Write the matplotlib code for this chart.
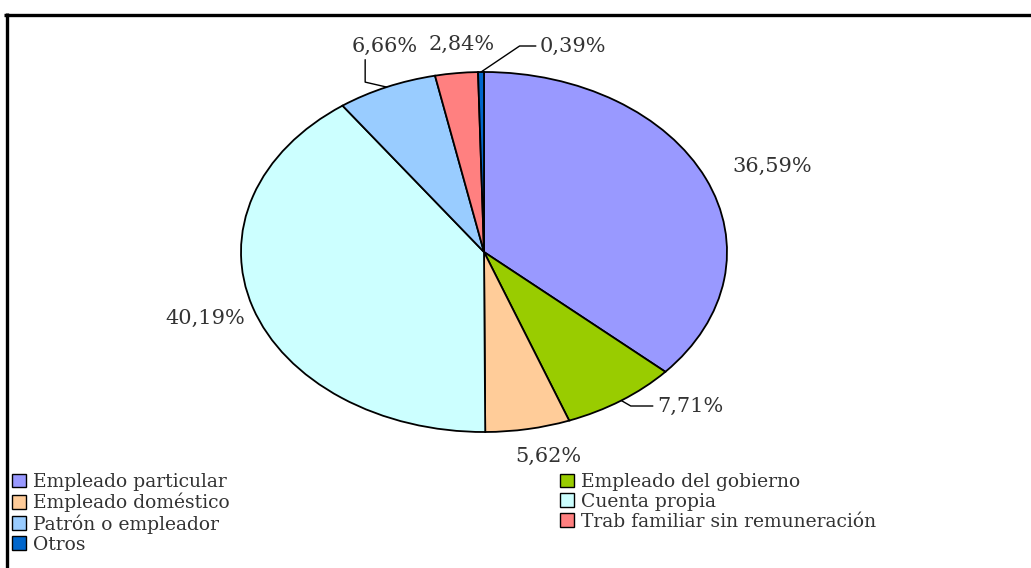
import matplotlib
matplotlib.use("Agg")
import matplotlib.pyplot as plt
from matplotlib.lines import Line2D
from matplotlib.patches import Patch
import numpy as np

categories = ["Empleado particular", "Empleado del gobierno", "Empleado doméstico",
              "Cuenta propia", "Patrón o empleador", "Trab familiar sin remuneración", "Otros"]
shares = [36.59, 7.71, 5.62, 40.19, 6.66, 2.84, 0.39]
pct_labels = ["36,59%", "7,71%", "5,62%", "40,19%", "6,66%", "2,84%", "0,39%"]
colors = ["#9999FF", "#99CC00", "#FFCC99", "#CCFFFF", "#99CCFF", "#FF8080", "#0066CC"]

# layout (pixels): figure size, ellipse centre and radii
W, H = 1031, 568
CX, CY, RX, RY = 484, 252, 243, 180

# label anchors in pixels, alignment, and leader style (None = no leader)
label_layout = [
    (772, 166, "center", None),
    (657, 406, "left", ("angle,angleA=0,angleB=-30,rad=0", (0, 0.5))),
    (548, 456, "center", None),
    (205, 318, "center", None),
    (385, 46, "center", ("angle,angleA=90,angleB=-13,rad=0", (0.2, 0))),
    (462, 44, "center", None),
    (540, 46, "left", ("angle,angleA=0,angleB=34,rad=0", (0, 0.5))),
]

plt.rcParams["font.family"] = ["DejaVu Serif"]
TXT = "#333333"

fig = plt.figure(figsize=(W / 100, H / 100), dpi=100)
ax = fig.add_axes([0, 0, 1, 1])
wedges, _ = ax.pie(shares, colors=colors, startangle=90, counterclock=False,
                   wedgeprops=dict(edgecolor="black", linewidth=1.3))
ax.set_aspect("auto")
ax.set_xlim(-CX / RX, (W - CX) / RX)
ax.set_ylim((CY - H) / RY, CY / RY)
ax.axis("off")


def px2data(px, py):
    return (px - CX) / RX, (CY - py) / RY


for w, lab, (px, py, ha, leader) in zip(wedges, pct_labels, label_layout):
    mid = np.deg2rad((w.theta1 + w.theta2) / 2)
    edge = (np.cos(mid), np.sin(mid))
    pos = px2data(px, py)
    if leader is None:
        ax.text(*pos, lab, ha=ha, va="center", fontsize=15, color=TXT)
    else:
        style, rel = leader
        ax.annotate(lab, xy=edge, xytext=pos, ha=ha, va="center", fontsize=15, color=TXT,
                    arrowprops=dict(arrowstyle="-", color="black", lw=1,
                                    connectionstyle=style, relpos=rel,
                                    shrinkA=1, shrinkB=0))

handles = [Patch(facecolor=c, edgecolor="black", lw=1) for c in colors]
leg_kw = dict(frameon=False, fontsize=13.5, handlelength=0.75, handleheight=0.75,
              handletextpad=0.35, labelspacing=0.1, borderpad=0, borderaxespad=0,
              loc="upper left", labelcolor=TXT)
col1 = [0, 2, 4, 6]
col2 = [1, 3, 5]
fig.legend([handles[i] for i in col1], [categories[i] for i in col1],
           bbox_to_anchor=(12 / W, 1 - 473 / H), **leg_kw)
fig.legend([handles[i] for i in col2], [categories[i] for i in col2],
           bbox_to_anchor=(560 / W, 1 - 473 / H), **leg_kw)

# chart frame (top and left edges visible)
fig.add_artist(Line2D([4 / W, 1], [1 - 14.5 / H] * 2, transform=fig.transFigure,
                      color="black", lw=2.4, solid_capstyle="butt"))
fig.add_artist(Line2D([6.5 / W] * 2, [1 - 13 / H, 0], transform=fig.transFigure,
                      color="black", lw=2.4, solid_capstyle="butt"))

fig.savefig("out.png", dpi=100)
